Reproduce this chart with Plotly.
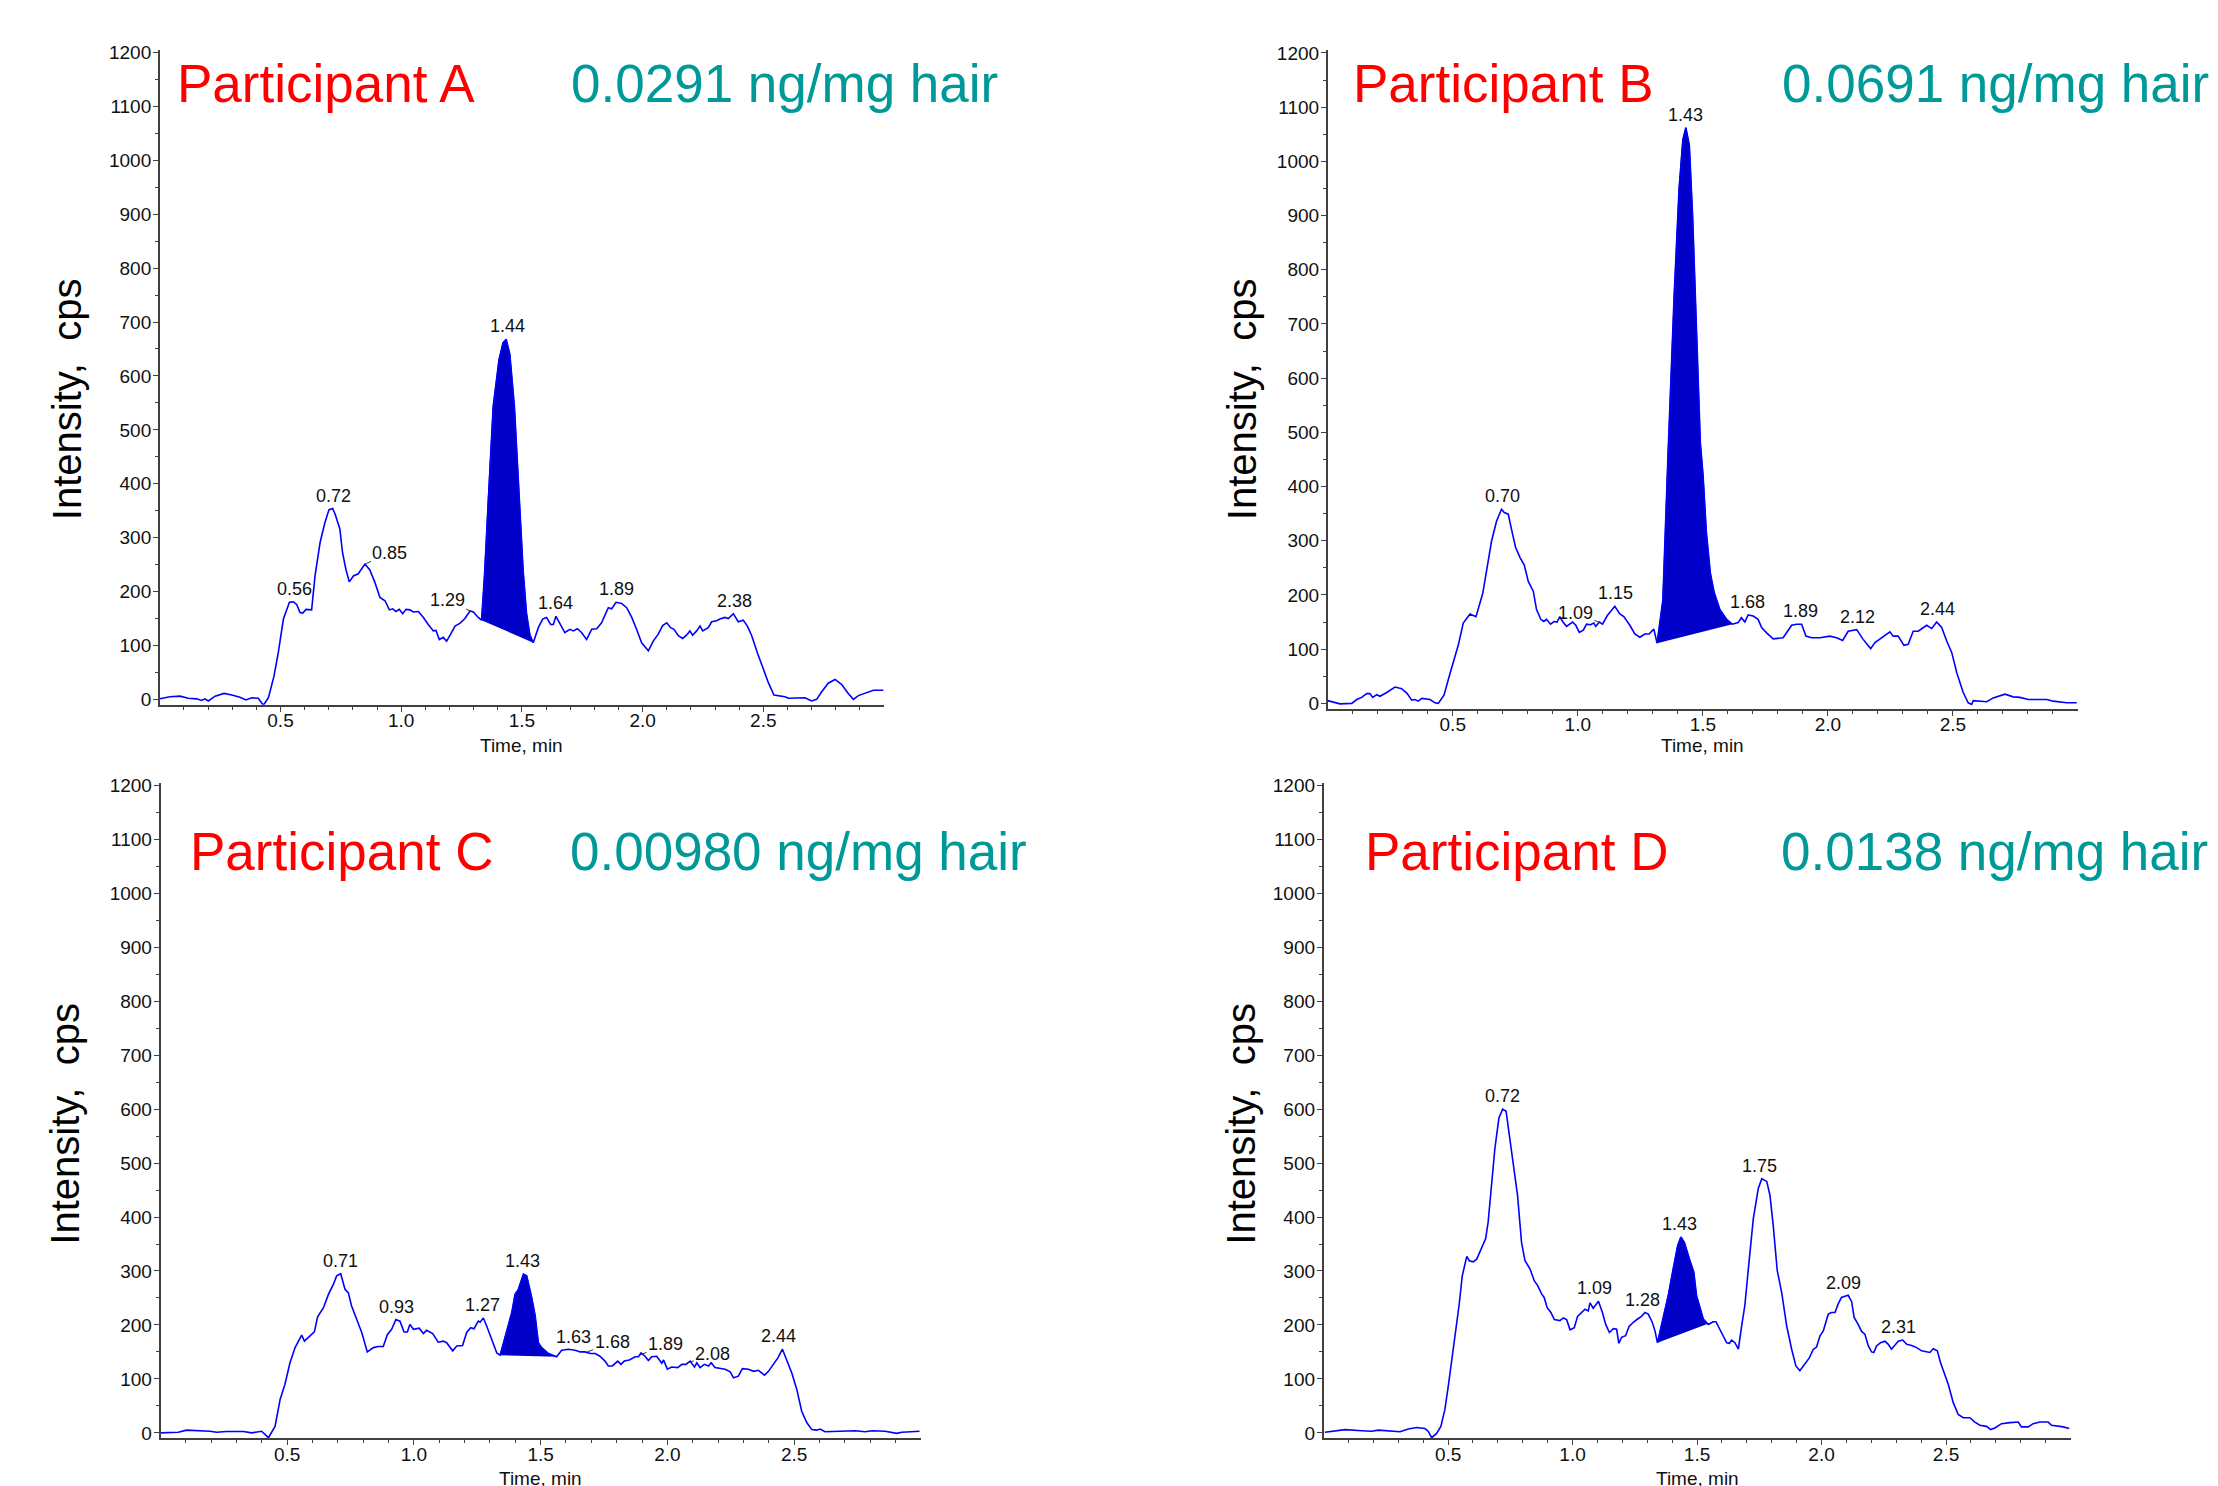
import numpy as np
import plotly.graph_objects as go

# ---------------- data: (time [min], intensity [cps])
A_points = [(0.000,1),(0.042,5),(0.084,6),(0.118,2),(0.153,1),(0.173,-2),(0.187,1),(0.201,-3),(0.229,6),(0.266,11),(0.298,8),(0.332,4),(0.357,-1),(0.381,3),(0.408,2),(0.429,-11),(0.450,3),(0.473,43),(0.491,87),(0.512,149),(0.537,180),(0.553,181),(0.567,176),(0.581,161),(0.592,160),(0.606,167),(0.629,166),(0.643,229),(0.664,291),(0.684,328),(0.701,352),(0.716,354),(0.726,344),(0.746,316),(0.757,272),(0.771,241),(0.785,218),(0.802,229),(0.822,233),(0.850,251),(0.870,240),(0.891,217),(0.912,189),(0.933,183),(0.951,166),(0.965,168),(0.978,163),(0.992,167),(1.006,159),(1.020,167),(1.036,166),(1.050,162),(1.071,163),(1.092,152),(1.112,139),(1.133,127),(1.144,128),(1.158,111),(1.174,115),(1.188,108),(1.205,121),(1.223,136),(1.243,141),(1.264,150),(1.285,164),(1.299,162),(1.319,152),(1.333,147),(1.345,230),(1.360,368),(1.381,543),(1.405,630),(1.422,662),(1.435,668),(1.450,640),(1.469,543),(1.492,345),(1.505,240),(1.519,160),(1.533,120),(1.547,105),(1.568,133),(1.586,149),(1.602,152),(1.619,139),(1.630,139),(1.641,154),(1.658,139),(1.678,124),(1.699,130),(1.713,127),(1.730,131),(1.747,124),(1.768,111),(1.789,130),(1.810,131),(1.830,142),(1.858,170),(1.872,168),(1.890,180),(1.913,178),(1.934,170),(1.955,152),(1.975,130),(1.996,105),(2.024,90),(2.044,108),(2.065,121),(2.083,137),(2.100,142),(2.116,133),(2.130,130),(2.148,118),(2.166,113),(2.182,119),(2.196,127),(2.207,119),(2.224,127),(2.238,136),(2.249,127),(2.272,133),(2.286,144),(2.307,146),(2.320,149),(2.341,152),(2.355,150),(2.376,159),(2.396,144),(2.417,147),(2.434,136),(2.452,118),(2.475,87),(2.500,56),(2.521,31),(2.544,8),(2.569,6),(2.590,5),(2.604,2),(2.638,3),(2.673,3),(2.700,-3),(2.721,0),(2.742,14),(2.769,30),(2.797,37),(2.824,28),(2.852,11),(2.873,0),(2.894,7),(2.921,12),(2.956,17),(2.997,17)]

B_points = [(0.000,5),(0.049,-1),(0.096,0),(0.116,7),(0.136,11),(0.156,18),(0.169,18),(0.180,11),(0.196,16),(0.209,13),(0.236,20),(0.269,30),(0.296,27),(0.318,18),(0.336,6),(0.349,7),(0.362,4),(0.376,9),(0.409,7),(0.429,1),(0.442,0),(0.465,15),(0.489,55),(0.509,89),(0.522,107),(0.542,148),(0.569,165),(0.593,160),(0.620,203),(0.635,244),(0.655,299),(0.675,336),(0.695,358),(0.706,352),(0.722,349),(0.735,321),(0.751,288),(0.769,269),(0.786,255),(0.802,225),(0.822,207),(0.835,173),(0.852,155),(0.864,151),(0.875,155),(0.891,146),(0.905,151),(0.917,150),(0.928,160),(0.939,151),(0.955,142),(0.979,150),(0.992,144),(1.006,131),(1.022,135),(1.035,146),(1.051,145),(1.064,148),(1.072,142),(1.086,150),(1.099,146),(1.118,162),(1.148,179),(1.168,165),(1.184,160),(1.208,144),(1.228,128),(1.248,122),(1.268,128),(1.285,128),(1.304,137),(1.317,111),(1.340,190),(1.360,450),(1.385,750),(1.405,950),(1.420,1040),(1.432,1062),(1.446,1030),(1.459,900),(1.477,640),(1.490,480),(1.501,420),(1.514,316),(1.530,240),(1.545,205),(1.568,173),(1.595,155),(1.618,146),(1.641,149),(1.654,158),(1.668,150),(1.681,163),(1.701,161),(1.721,155),(1.735,140),(1.755,130),(1.781,119),(1.821,121),(1.837,133),(1.855,144),(1.875,146),(1.895,146),(1.912,124),(1.935,121),(1.968,121),(2.008,124),(2.035,121),(2.059,116),(2.081,133),(2.115,136),(2.141,118),(2.171,101),(2.188,112),(2.221,123),(2.248,132),(2.261,124),(2.281,124),(2.304,107),(2.321,109),(2.341,133),(2.361,133),(2.395,144),(2.415,138),(2.435,150),(2.455,140),(2.475,115),(2.495,94),(2.515,57),(2.541,20),(2.561,1),(2.575,-2),(2.581,5),(2.635,3),(2.661,10),(2.708,17),(2.741,12),(2.768,11),(2.801,7),(2.875,7),(2.901,4),(2.955,1),(2.995,1)]

C_points = [(0.000,0),(0.070,1),(0.103,5),(0.156,4),(0.195,3),(0.222,1),(0.261,2.5),(0.327,2.5),(0.360,0),(0.399,3),(0.426,-9),(0.452,12),(0.472,62),(0.491,90),(0.511,130),(0.531,158),(0.557,181),(0.568,170),(0.587,178),(0.607,187),(0.620,215),(0.643,232),(0.663,257),(0.682,275),(0.695,291),(0.711,295),(0.728,266),(0.741,260),(0.754,235),(0.774,210),(0.794,186),(0.816,150),(0.840,158),(0.860,160),(0.879,160),(0.895,182),(0.912,192),(0.929,210),(0.945,207),(0.961,187),(0.974,187),(0.984,201),(0.998,192),(1.021,194),(1.037,184),(1.050,190),(1.074,184),(1.096,168),(1.116,170),(1.129,167),(1.153,152),(1.169,161),(1.192,162),(1.208,186),(1.224,195),(1.237,193),(1.254,207),(1.261,205),(1.274,213),(1.287,198),(1.307,173),(1.327,148),(1.340,144),(1.360,179),(1.386,223),(1.399,257),(1.412,266),(1.432,294),(1.445,291),(1.465,250),(1.478,218),(1.491,167),(1.504,158),(1.531,147),(1.563,141),(1.583,153),(1.610,155),(1.636,153),(1.656,150),(1.675,150),(1.695,147),(1.715,147),(1.734,142),(1.754,133),(1.767,124),(1.783,124),(1.804,133),(1.817,127),(1.830,133),(1.850,135),(1.873,141),(1.886,141),(1.896,148),(1.912,142),(1.925,134),(1.938,141),(1.958,142),(1.978,129),(1.985,135),(2.000,118),(2.017,122),(2.041,121),(2.057,127),(2.073,127),(2.090,133),(2.107,122),(2.116,130),(2.129,121),(2.146,127),(2.162,124),(2.173,130),(2.188,121),(2.208,119),(2.228,118),(2.248,113),(2.261,102),(2.280,105),(2.296,119),(2.320,118),(2.340,114),(2.359,116),(2.383,107),(2.399,114),(2.415,124),(2.436,139),(2.454,155),(2.474,133),(2.491,111),(2.511,80),(2.530,40),(2.550,19),(2.570,6),(2.589,5),(2.603,7),(2.622,2),(2.662,3),(2.714,3),(2.741,4),(2.780,2),(2.807,4),(2.859,3),(2.905,-1),(2.925,1),(2.995,3)]

D_points = [(0.005,1),(0.086,6),(0.153,4),(0.193,3),(0.220,5),(0.273,3),(0.307,2),(0.340,7),(0.374,10),(0.407,8),(0.420,3),(0.434,-9),(0.454,-1),(0.471,12),(0.487,43),(0.501,87),(0.514,130),(0.528,174),(0.544,236),(0.557,291),(0.565,310),(0.575,327),(0.585,319),(0.601,317),(0.615,322),(0.628,336),(0.651,360),(0.661,391),(0.675,459),(0.688,527),(0.704,583),(0.719,600),(0.733,596),(0.749,546),(0.766,484),(0.779,440),(0.795,353),(0.809,319),(0.829,304),(0.846,282),(0.860,273),(0.876,257),(0.886,251),(0.898,232),(0.913,223),(0.927,210),(0.949,208),(0.963,213),(0.976,210),(0.990,191),(1.007,195),(1.020,216),(1.036,222),(1.050,229),(1.063,226),(1.070,241),(1.083,231),(1.104,244),(1.120,223),(1.133,201),(1.148,186),(1.164,193),(1.177,192),(1.186,166),(1.197,177),(1.213,180),(1.227,197),(1.244,205),(1.261,211),(1.277,216),(1.291,223),(1.304,220),(1.320,205),(1.331,189),(1.341,167),(1.364,211),(1.384,254),(1.404,304),(1.422,347),(1.435,363),(1.449,353),(1.471,320),(1.487,298),(1.498,254),(1.512,229),(1.525,211),(1.545,201),(1.565,206),(1.576,206),(1.592,192),(1.605,181),(1.619,167),(1.630,166),(1.639,172),(1.652,167),(1.666,155),(1.679,198),(1.692,236),(1.706,304),(1.726,397),(1.746,453),(1.760,471),(1.780,466),(1.793,440),(1.806,384),(1.822,301),(1.840,260),(1.860,198),(1.880,155),(1.897,124),(1.913,115),(1.933,127),(1.951,139),(1.967,155),(1.980,159),(1.994,180),(2.007,189),(2.027,220),(2.040,223),(2.054,223),(2.067,239),(2.080,251),(2.098,253),(2.107,255),(2.121,243),(2.131,214),(2.147,201),(2.161,188),(2.174,183),(2.188,161),(2.201,150),(2.210,149),(2.221,161),(2.237,167),(2.255,170),(2.268,164),(2.281,155),(2.291,161),(2.308,170),(2.326,172),(2.342,164),(2.362,162),(2.382,158),(2.402,152),(2.425,149),(2.435,149),(2.449,156),(2.465,152),(2.478,130),(2.496,108),(2.509,90),(2.529,56),(2.549,34),(2.569,28),(2.596,28),(2.616,20),(2.636,14),(2.663,12),(2.679,6),(2.696,9),(2.723,17),(2.757,19),(2.790,20),(2.803,11),(2.830,11),(2.850,17),(2.877,20),(2.910,20),(2.924,14),(2.971,11),(2.995,8)]

# integrated peak windows (start, end) in minutes
A_fill = (1.333, 1.547)
B_fill = (1.317, 1.618)
C_fill = (1.340, 1.563)
D_fill = (1.341, 1.565)

# peak retention-time labels
A_labels = ["0.56", "0.72", "0.85", "1.29", "1.44", "1.64", "1.89", "2.38"]
B_labels = ["0.70", "1.09", "1.15", "1.43", "1.68", "1.89", "2.12", "2.44"]
C_labels = ["0.71", "0.93", "1.27", "1.43", "1.63", "1.68", "1.89", "2.08", "2.44"]
D_labels = ["0.72", "1.09", "1.28", "1.43", "1.75", "2.09", "2.31"]

names = ["Participant A", "Participant B", "Participant C", "Participant D"]
concentrations = ["0.0291 ng/mg hair", "0.0691 ng/mg hair", "0.00980 ng/mg hair", "0.0138 ng/mg hair"]

x_tick_vals = [0.5, 1.0, 1.5, 2.0, 2.5]
x_tick_text = ["0.5", "1.0", "1.5", "2.0", "2.5"]
y_tick_vals = list(range(0, 1201, 100))

# ---------------- styling / layout geometry (target pixels in the 2218x1486 picture)
W, H = 2218, 1486
V_OFF, V_SCALE = 9.1, 0.9906   # measured vertical mapping of the capture (target = off + scale * page)

LEADERS = {  # label offsets (px) for labels drawn with a leader line
    0: {"0.85": (25, -11), "1.29": (-24, -11)},
    1: {"1.09": (-25, -10)},
    2: {"1.68": (26, -10), "1.89": (26, -11), "2.08": (25, -9)},
    3: {},
}
BOX = [  # (left, right, top, bottom) target-pixel box of each plot area
    (159.8, 884.0, 50.9, 705.4),
    (1327.7, 2078.0, 51.3, 709.4),
    (160.5, 920.8, 783.3, 1438.4),
    (1323.6, 2070.5, 783.3, 1438.4),
]
RED_POS = [(175, 85), (1351, 85), (188, 852), (1363, 852)]
TEAL_POS = [(569, 85), (1780, 85), (568, 852), (1779, 852)]
YT_POS = [(67, 400), (1242, 400), (65, 1124), (1241, 1124)]
XT_Y = [746, 746, 1479, 1479]

SANS = "Liberation Sans, Arial, sans-serif"
LINE_BLUE = "#0000FF"
FILL_BLUE = "#0000C8"
AXIS_COL = "#404040"


def fx(p):
    return p / W


def fy(q):
    p = (q - V_OFF) / V_SCALE
    return 1 - p / H


fig = go.Figure()
annotations = []
all_points = [A_points, B_points, C_points, D_points]
all_fills = [A_fill, B_fill, C_fill, D_fill]
all_labels = [A_labels, B_labels, C_labels, D_labels]

layout_axes = {}
for i in range(4):
    t = np.array([p[0] for p in all_points[i]])
    v = np.array([p[1] for p in all_points[i]], dtype=float)
    xa = "x" if i == 0 else f"x{i+1}"
    ya = "y" if i == 0 else f"y{i+1}"
    f0, f1 = all_fills[i]
    m = (t >= f0 - 1e-9) & (t <= f1 + 1e-9)
    fig.add_trace(go.Scatter(x=t[m], y=v[m], mode="lines", fill="toself",
                             fillcolor=FILL_BLUE, line=dict(color=FILL_BLUE, width=1),
                             xaxis=xa, yaxis=ya, hoverinfo="skip", showlegend=False))
    fig.add_trace(go.Scatter(x=t, y=v, mode="lines", line=dict(color=LINE_BLUE, width=1.6),
                             xaxis=xa, yaxis=ya, showlegend=False))

    l, r, tp, bt = BOX[i]
    xkey = "xaxis" if i == 0 else f"xaxis{i+1}"
    ykey = "yaxis" if i == 0 else f"yaxis{i+1}"
    layout_axes[xkey] = dict(
        domain=[fx(l), fx(r)], range=[0, 3.0], anchor=ya,
        showline=True, linecolor=AXIS_COL, linewidth=1.5,
        ticks="outside", ticklen=5, tickwidth=1.2, tickcolor=AXIS_COL,
        tickvals=x_tick_vals, ticktext=x_tick_text, ticklabelstandoff=-7,
        tickfont=dict(family=SANS, size=19, color="#111111"),
        showgrid=False, zeroline=False,
        minor=dict(tickvals=[round(k * 0.1, 1) for k in range(1, 30)], ticks="outside",
                   ticklen=3, tickcolor=AXIS_COL, tickwidth=1, showgrid=False),
    )
    layout_axes[ykey] = dict(
        domain=[fy(bt), fy(tp)], range=[-10, 1205], anchor=xa,
        showline=True, linecolor=AXIS_COL, linewidth=1.5,
        ticks="outside", ticklen=5, tickwidth=1.2, tickcolor=AXIS_COL,
        tickvals=y_tick_vals, ticktext=[str(k) for k in y_tick_vals], ticklabelstandoff=-2,
        tickfont=dict(family=SANS, size=19, color="#111111"),
        showgrid=False, zeroline=False,
        minor=dict(tickvals=list(range(50, 1200, 100)), ticks="outside",
                   ticklen=3, tickcolor=AXIS_COL, tickwidth=1, showgrid=False),
    )

    # peak labels
    for lab in all_labels[i]:
        tl = float(lab)
        if lab in LEADERS[i]:
            dx, dy = LEADERS[i][lab]
            yv = float(np.interp(tl, t, v))
            annotations.append(dict(x=tl, y=yv, xref=xa, yref=ya, text=lab,
                                    showarrow=True, arrowhead=0, arrowwidth=0.9,
                                    arrowcolor="#222222", ax=dx, ay=dy, standoff=1,
                                    font=dict(family=SANS, size=18, color="#111111")))
        else:
            w = (t >= tl - 0.016) & (t <= tl + 0.016)
            yv = float(v[w].max()) if w.any() else float(np.interp(tl, t, v))
            annotations.append(dict(x=tl, y=yv, xref=xa, yref=ya, text=lab,
                                    showarrow=False, yanchor="bottom", xanchor="center",
                                    yshift=1,
                                    font=dict(family=SANS, size=18, color="#111111")))

    # big titles
    annotations.append(dict(x=fx(RED_POS[i][0]), y=fy(RED_POS[i][1]), xref="paper", yref="paper",
                            text=names[i], showarrow=False, xanchor="left", yanchor="middle",
                            font=dict(family=SANS, size=53, color="#FF0000")))
    annotations.append(dict(x=fx(TEAL_POS[i][0]), y=fy(TEAL_POS[i][1]), xref="paper", yref="paper",
                            text=concentrations[i], showarrow=False, xanchor="left", yanchor="middle",
                            font=dict(family=SANS, size=53, color="#009999")))
    # axis titles
    annotations.append(dict(x=fx(YT_POS[i][0]), y=fy(YT_POS[i][1]), xref="paper", yref="paper",
                            text="Intensity,\u00a0 cps", textangle=-90, showarrow=False,
                            xanchor="center", yanchor="middle",
                            font=dict(family=SANS, size=40, color="#000000")))
    annotations.append(dict(x=fx((l + r) / 2), y=fy(XT_Y[i]), xref="paper", yref="paper",
                            text="Time, min", showarrow=False, xanchor="center", yanchor="middle",
                            font=dict(family=SANS, size=19, color="#111111")))

fig.update_layout(
    width=W, height=H, autosize=False,
    margin=dict(l=0, r=0, t=0, b=0, pad=0),
    paper_bgcolor="white", plot_bgcolor="white",
    showlegend=False,
    annotations=annotations,
    **layout_axes,
)

PIN_TO_WINDOW = (
    "var gd=document.getElementById('{plot_id}');"
    "gd.style.position='fixed';gd.style.left='0px';gd.style.top='0px';"
    "document.documentElement.style.overflow='hidden';"
    "document.body.style.overflow='hidden';document.body.style.margin='0px';"
)
fig.write_html("out.html", config={"displayModeBar": False}, post_script=PIN_TO_WINDOW)
